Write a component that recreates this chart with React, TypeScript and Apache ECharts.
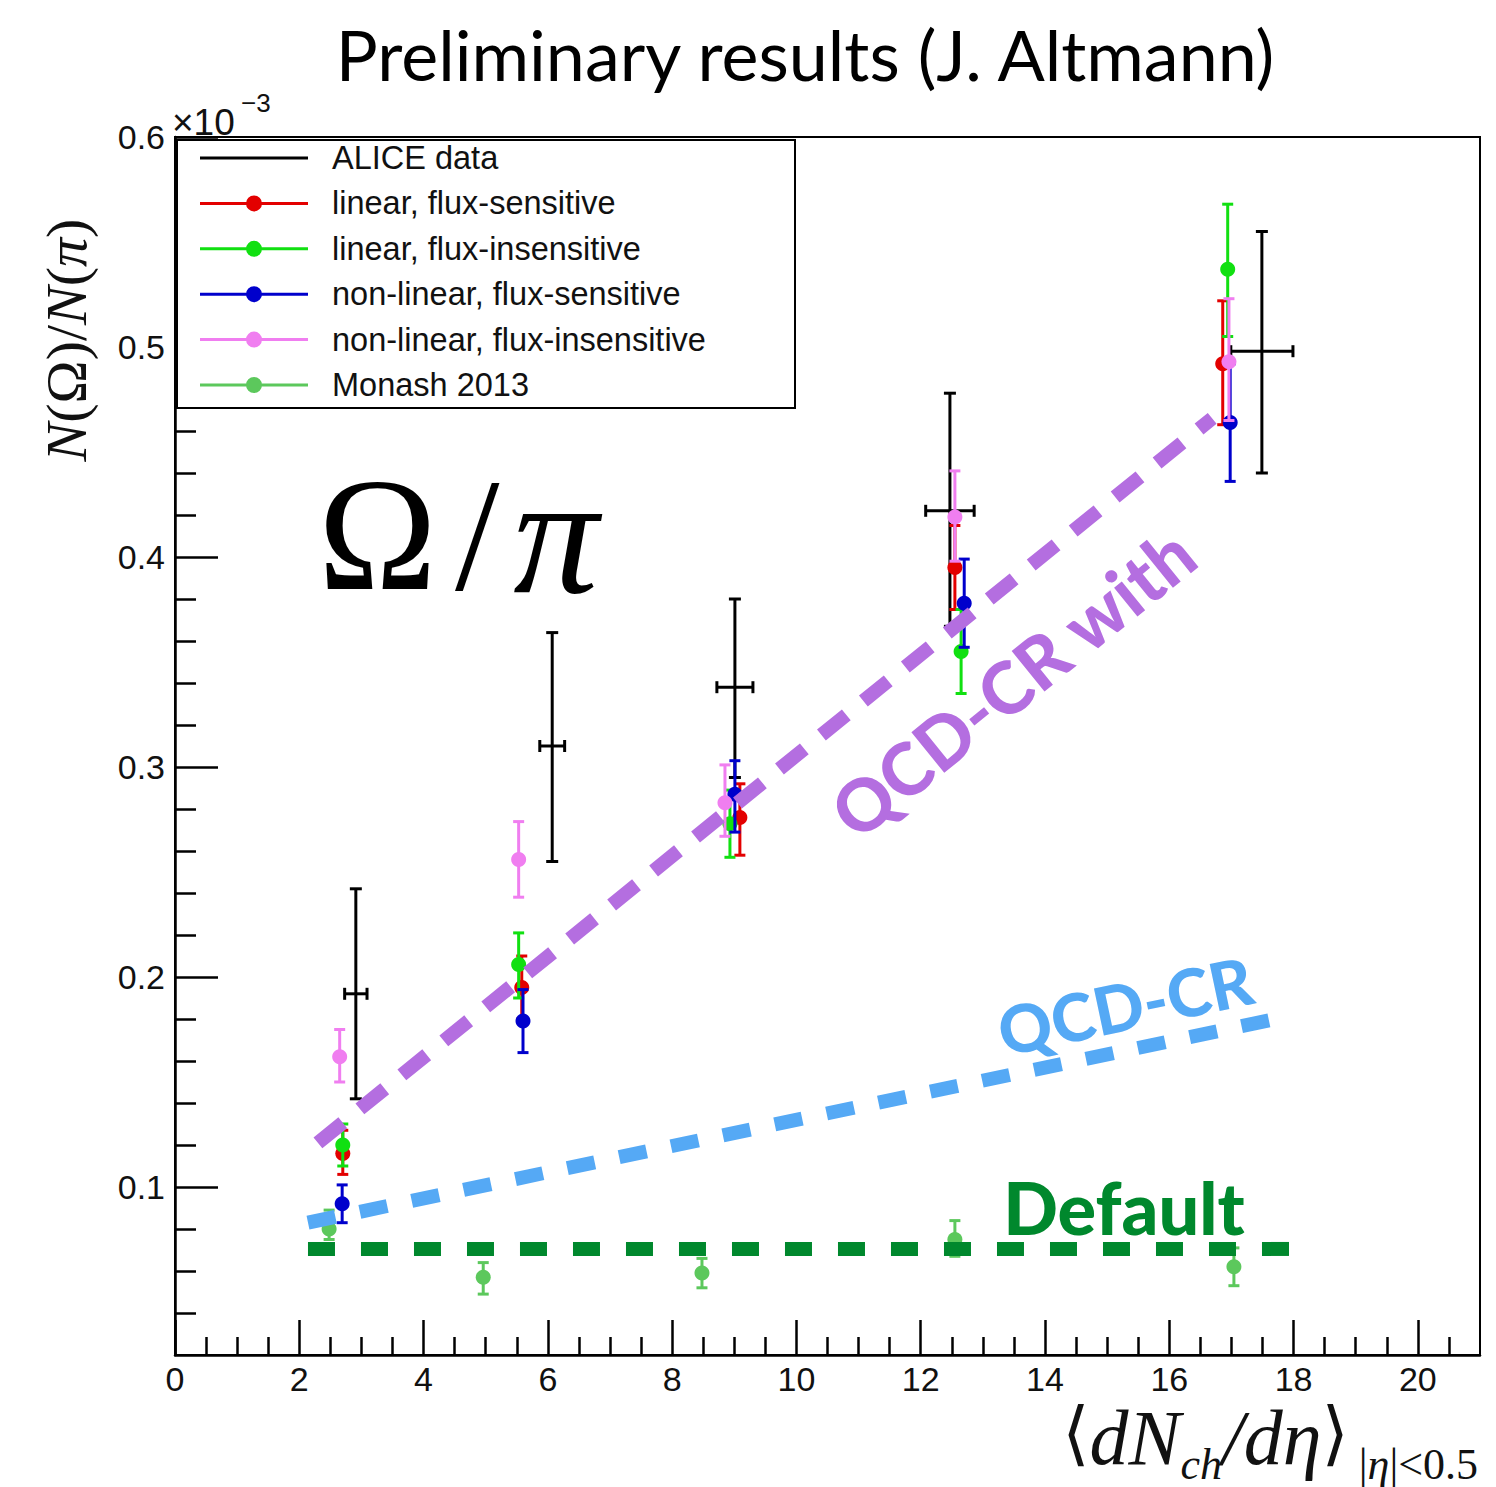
import React, { useEffect, useRef } from "react";
import * as echarts from "echarts";

// ---------- axis ticks ----------
const xTicks = [0, 2, 4, 6, 8, 10, 12, 14, 16, 18, 20];
const xMinorTicks = [0.5, 1, 1.5, 2.5, 3, 3.5, 4.5, 5, 5.5, 6.5, 7, 7.5, 8.5, 9, 9.5, 10.5, 11, 11.5, 12.5, 13, 13.5, 14.5, 15, 15.5, 16.5, 17, 17.5, 18.5, 19, 19.5, 20.5];
const yTicks = [0.1, 0.2, 0.3, 0.4, 0.5, 0.6];
const yMinorTicks = [0.04, 0.06, 0.08, 0.12, 0.14, 0.16, 0.18, 0.22, 0.24, 0.26, 0.28, 0.32, 0.34, 0.36, 0.38, 0.42, 0.44, 0.46, 0.48, 0.52, 0.54, 0.56, 0.58];

// ---------- data (values in units of 1e-3) ----------
const aliceX = [2.91, 6.07, 9.01, 12.47, 17.49];
const aliceXErr = [0.18, 0.2, 0.29, 0.39, 0.5];
const aliceY = [0.192, 0.31, 0.338, 0.422, 0.498];
const aliceYLo = [0.142, 0.255, 0.295, 0.367, 0.44];
const aliceYHi = [0.242, 0.364, 0.38, 0.478, 0.555];

const linFsX = [2.7, 5.58, 9.09, 12.55, 16.86];
const linFsY = [0.116, 0.195, 0.276, 0.395, 0.492];
const linFsLo = [0.106, 0.18, 0.258, 0.375, 0.463];
const linFsHi = [0.127, 0.21, 0.292, 0.415, 0.522];

const linFiX = [2.7, 5.53, 8.93, 12.65, 16.94];
const linFiY = [0.12, 0.206, 0.273, 0.355, 0.537];
const linFiLo = [0.11, 0.19, 0.257, 0.335, 0.505];
const linFiHi = [0.13, 0.221, 0.289, 0.375, 0.568];

const nlFsX = [2.69, 5.6, 9.01, 12.7, 16.98];
const nlFsY = [0.092, 0.179, 0.287, 0.378, 0.464];
const nlFsLo = [0.083, 0.164, 0.269, 0.357, 0.436];
const nlFsHi = [0.101, 0.194, 0.303, 0.399, 0.492];

const nlFiX = [2.65, 5.53, 8.85, 12.55, 16.96];
const nlFiY = [0.162, 0.256, 0.283, 0.419, 0.493];
const nlFiLo = [0.15, 0.238, 0.267, 0.398, 0.465];
const nlFiHi = [0.175, 0.274, 0.301, 0.441, 0.523];

const monashX = [2.48, 4.96, 8.48, 12.55, 17.04];
const monashY = [0.08, 0.057, 0.059, 0.075, 0.062];
const monashLo = [0.075, 0.049, 0.052, 0.067, 0.053];
const monashHi = [0.089, 0.064, 0.066, 0.084, 0.071];

// ---------- hand-drawn trend annotations ----------
const qcdCrWithLine = [[2.3, 0.121], [16.69, 0.466]];
const qcdCrLine = [[2.14, 0.083], [17.71, 0.18]];
const defaultLine = [[2.14, 0.0705], [18.02, 0.0705]];

const seriesNames = [
  "ALICE data",
  "linear, flux-sensitive",
  "linear, flux-insensitive",
  "non-linear, flux-sensitive",
  "non-linear, flux-insensitive",
  "Monash 2013",
];
const seriesColors = ["#000000", "#e30000", "#11e011", "#0000cc", "#f07ef0", "#5cc85c"];

function rows(xs: number[], ys: number[], lo: number[], hi: number[], xe?: number[]) {
  return xs.map((x, i) => [x, ys[i], lo[i], hi[i], xe ? xe[i] : 0]);
}

function makeRender(color: string, radius: number, cap: number, lw: number) {
  return (params: any, api: any) => {
    const x = api.value(0);
    const y = api.value(1);
    const lo = api.value(2);
    const hi = api.value(3);
    const xe = api.value(4);
    const c = api.coord([x, y]);
    const pl = api.coord([x, lo]);
    const ph = api.coord([x, hi]);
    const st = { stroke: color, lineWidth: lw };
    const ch: any[] = [
      { type: "line", shape: { x1: c[0], y1: pl[1], x2: c[0], y2: ph[1] }, style: st },
      { type: "line", shape: { x1: c[0] - cap, y1: pl[1], x2: c[0] + cap, y2: pl[1] }, style: st },
      { type: "line", shape: { x1: c[0] - cap, y1: ph[1], x2: c[0] + cap, y2: ph[1] }, style: st },
    ];
    if (xe) {
      const xl = api.coord([x - xe, y]);
      const xh = api.coord([x + xe, y]);
      ch.push({ type: "line", shape: { x1: xl[0], y1: c[1], x2: xh[0], y2: c[1] }, style: st });
      ch.push({ type: "line", shape: { x1: xl[0], y1: c[1] - cap, x2: xl[0], y2: c[1] + cap }, style: st });
      ch.push({ type: "line", shape: { x1: xh[0], y1: c[1] - cap, x2: xh[0], y2: c[1] + cap }, style: st });
    }
    if (radius > 0) {
      ch.push({ type: "circle", shape: { cx: c[0], cy: c[1], r: radius }, style: { fill: color } });
    }
    return { type: "group", children: ch };
  };
}

const lineIcon = "path://M0,6.5 H108 V9.5 H0 Z";
const dotIcon = "path://M0,6.5 H108 V9.5 H0 Z M46,8 A8,8 0 1,1 62,8 A8,8 0 1,1 46,8 Z";

export default function App() {
  const ref = useRef<HTMLDivElement>(null);
  useEffect(() => {
    if (!ref.current) return;
    const chart = echarts.init(ref.current, undefined, { renderer: "svg" });
    const datasets = [
      rows(aliceX, aliceY, aliceYLo, aliceYHi, aliceXErr),
      rows(linFsX, linFsY, linFsLo, linFsHi),
      rows(linFiX, linFiY, linFiLo, linFiHi),
      rows(nlFsX, nlFsY, nlFsLo, nlFsHi),
      rows(nlFiX, nlFiY, nlFiLo, nlFiHi),
      rows(monashX, monashY, monashLo, monashHi),
    ];
    const axisFont = { fontFamily: "Liberation Sans", fontSize: 34, color: "#111" };
    const errSeries = datasets.map((d, i) => ({
      type: "custom",
      name: seriesNames[i],
      data: d,
      encode: { x: 0, y: 1 },
      itemStyle: { color: seriesColors[i] },
      renderItem: makeRender(seriesColors[i], i === 0 ? 0 : 7.5, i === 0 ? 6 : 5.5, 3),
      z: 2 + i * 0.01,
    }));
    const dashLine = (data: number[][], color: string, dash: number[]) => ({
      type: "line",
      data,
      symbol: "none",
      silent: true,
      lineStyle: { color, width: 14, type: dash, cap: "butt" },
      z: 5,
    });
    chart.setOption({
      animation: false,
      grid: {
        left: 175,
        top: 137,
        width: 1305,
        height: 1218,
        show: true,
        borderColor: "#000",
        borderWidth: 2,
        backgroundColor: "transparent",
      },
      xAxis: [
        {
          type: "value",
          min: 0,
          max: 21,
          axisLine: { show: true, lineStyle: { color: "#000", width: 2.5 } },
          axisTick: { show: true, inside: true, length: 35, customValues: xTicks, lineStyle: { color: "#000", width: 2.5 } },
          axisLabel: { show: true, customValues: xTicks, margin: 7, ...axisFont },
          splitLine: { show: false },
        },
        {
          type: "value",
          min: 0,
          max: 21,
          position: "bottom",
          axisLine: { show: false },
          axisTick: { show: true, inside: true, length: 18, customValues: xMinorTicks, lineStyle: { color: "#000", width: 2.5 } },
          axisLabel: { show: false },
          splitLine: { show: false },
        },
      ],
      yAxis: [
        {
          type: "value",
          min: 0.02,
          max: 0.6,
          axisLine: { show: true, lineStyle: { color: "#000", width: 2.5 } },
          axisTick: { show: true, inside: true, length: 43, customValues: yTicks, lineStyle: { color: "#000", width: 2.5 } },
          axisLabel: {
            show: true,
            customValues: yTicks,
            margin: 10,
            formatter: (v: number) => v.toFixed(1),
            ...axisFont,
          },
          splitLine: { show: false },
        },
        {
          type: "value",
          min: 0.02,
          max: 0.6,
          position: "left",
          axisLine: { show: false },
          axisTick: { show: true, inside: true, length: 21, customValues: yMinorTicks, lineStyle: { color: "#000", width: 2.5 } },
          axisLabel: { show: false },
          splitLine: { show: false },
        },
      ],
      legend: {
        orient: "vertical",
        left: 200,
        top: 141,
        padding: 0,
        itemGap: 11.4,
        itemWidth: 108,
        itemHeight: 16,
        symbolKeepAspect: true,
        textStyle: { fontFamily: "Liberation Sans", fontSize: 32.5, lineHeight: 34, color: "#111", padding: [0, 0, 0, 19] },
        data: seriesNames.map((n, i) => ({ name: n, icon: i === 0 ? lineIcon : dotIcon })),
        z: 6,
      },
      graphic: [
        {
          type: "rect",
          shape: { x: 177, y: 140, width: 618, height: 268 },
          style: { fill: "#fff", stroke: "#000", lineWidth: 2 },
          z: 5,
        },
        {
          type: "text",
          x: 805,
          y: 54,
          style: { text: "Preliminary results (J. Altmann)", font: "400 70px Lato", fill: "#000", align: "center", verticalAlign: "middle" },
          z: 10,
        },
        {
          type: "text",
          x: 172,
          y: 122,
          style: { text: "×10", font: "37px 'Liberation Sans'", fill: "#111", align: "left", verticalAlign: "middle" },
          z: 10,
        },
        {
          type: "text",
          x: 241,
          y: 103,
          style: { text: "−3", font: "26px 'Liberation Sans'", fill: "#111", align: "left", verticalAlign: "middle" },
          z: 10,
        },
        {
          type: "text",
          x: 66,
          y: 340,
          rotation: Math.PI / 2,
          style: {
            text: "{i|N}{r|(Ω)/}{i|N}{r|(}{i|π}{r|)}",
            align: "center",
            verticalAlign: "middle",
            fill: "#111",
            rich: {
              i: { font: "italic 58px 'Liberation Serif'", fill: "#111" },
              r: { font: "58px 'Liberation Serif'", fill: "#111" },
            },
          },
          z: 10,
        },
        {
          type: "text",
          x: 1478,
          y: 1427,
          style: {
            text: "{m|⟨}{i|dN}{si|ch}{i|/dη}{m|⟩}{sg||}{si|η}{s||<0.5}",
            align: "right",
            verticalAlign: "middle",
            fill: "#111",
            rich: {
              m: { font: "70px 'DejaVu Serif'", fill: "#111", verticalAlign: "top", lineHeight: 58 },
              i: { font: "italic 78px 'Liberation Serif'", fill: "#111", verticalAlign: "top", lineHeight: 58 },
              s: { font: "44px 'Liberation Serif'", fill: "#111", verticalAlign: "top", lineHeight: 44, padding: [44, 0, 0, 0] },
              sg: { font: "44px 'Liberation Serif'", fill: "#111", verticalAlign: "top", lineHeight: 44, padding: [44, 0, 0, 10] },
              si: { font: "italic 44px 'Liberation Serif'", fill: "#111", verticalAlign: "top", lineHeight: 44, padding: [44, 0, 0, 0] },
            },
          },
          z: 10,
        },
        {
          type: "text",
          x: 318,
          y: 535,
          style: {
            text: "{a|Ω}{s|/}{b|π}",
            align: "left",
            verticalAlign: "middle",
            fill: "#000",
            rich: {
              a: { font: "160px 'Liberation Serif'", fill: "#000" },
              s: { font: "160px 'Liberation Serif'", fill: "#000", padding: [0, 0, 0, 18] },
              b: { font: "italic 170px 'Liberation Serif'", fill: "#000", padding: [0, 0, 0, 14] },
            },
          },
          z: 10,
        },
        {
          type: "text",
          x: 1012,
          y: 682,
          rotation: (39 * Math.PI) / 180,
          style: { text: "QCD-CR with", font: "900 72px Lato", fill: "#b46ee0", align: "center", verticalAlign: "middle" },
          z: 10,
        },
        {
          type: "text",
          x: 1125,
          y: 1005,
          rotation: (12 * Math.PI) / 180,
          style: { text: "QCD-CR", font: "900 66px Lato", fill: "#55a9f5", align: "center", verticalAlign: "middle" },
          z: 10,
        },
        {
          type: "text",
          x: 1124,
          y: 1207,
          style: { text: "Default", font: "900 72px Lato", fill: "#00882d", align: "center", verticalAlign: "middle" },
          z: 10,
        },
      ],
      series: [
        ...errSeries,
        dashLine(qcdCrWithLine, "#b46ee0", [32, 22]),
        dashLine(qcdCrLine, "#55a9f5", [28, 25]),
        dashLine(defaultLine, "#00882d", [27, 26]),
      ],
    });
    return () => chart.dispose();
  }, []);
  return (
    <div
      ref={ref}
      style={{ position: "absolute", left: 0, top: 0, width: 1496, height: 1487, background: "#fff" }}
    />
  );
}
